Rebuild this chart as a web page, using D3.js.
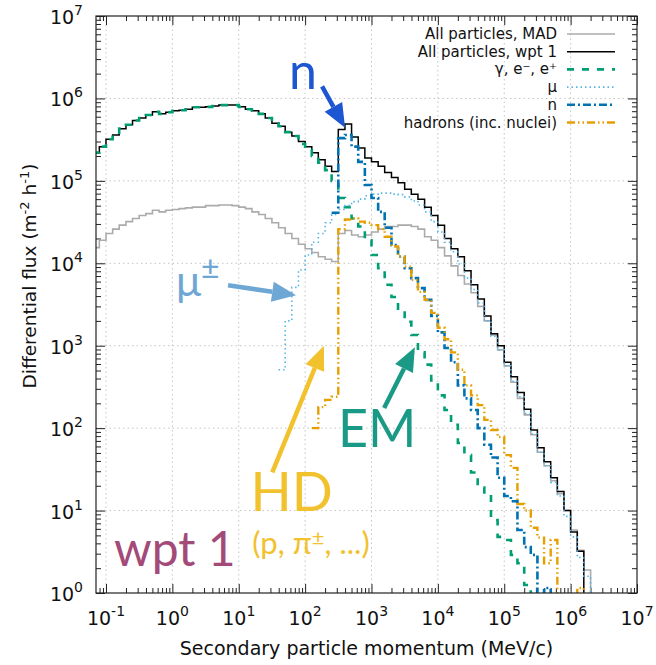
<!DOCTYPE html>
<html>
<head>
<meta charset="utf-8">
<script src="https://cdn.jsdelivr.net/npm/d3@7"></script>
<style>
  body { margin: 0; background: #fff; }
  svg { display: block; }
</style>
</head>
<body>
<div id="chart"></div>
<script>
// Histogram bin low edges (MeV/c), 10 bins per decade
const binLowEdges = [
  0.0631, 0.0794, 0.1, 0.126, 0.158, 0.2, 0.251, 0.316, 0.398, 0.501, 0.631, 0.794,
  1, 1.26, 1.58, 2, 2.51, 3.16, 3.98, 5.01, 6.31, 7.94,
  10, 12.6, 15.8, 20, 25.1, 31.6, 39.8, 50.1, 63.1, 79.4,
  100, 126, 158, 200, 251, 316, 398, 501, 631, 794,
  1000, 1260, 1580, 2000, 2510, 3160, 3980, 5010, 6310, 7940,
  1e4, 1.26e4, 1.58e4, 2e4, 2.51e4, 3.16e4, 3.98e4, 5.01e4, 6.31e4, 7.94e4,
  1e5, 1.26e5, 1.58e5, 2e5, 2.51e5, 3.16e5, 3.98e5, 5.01e5, 6.31e5, 7.94e5,
  1e6, 1.26e6, 1.58e6, 2e6, 2.51e6
];

// flux per bin (m^-2 h^-1), each series starts at the given bin edge
const fluxMAD = [ // from 0.0631
  1.55e4, 1.9e4, 2.3e4, 2.6e4, 2.9e4, 3.2e4, 3.5e4, 3.8e4, 4.0e4, 4.4e4, 4.2e4, 4.4e4,
  4.5e4, 4.6e4, 4.7e4, 4.8e4, 4.8e4, 5.0e4, 5.0e4, 5.1e4, 5.1e4, 5.0e4,
  4.8e4, 4.6e4, 4.2e4, 3.9e4, 3.5e4, 3.1e4, 2.7e4, 2.3e4, 2.0e4, 1.7e4,
  1.5e4, 1.35e4, 1.2e4, 1.12e4, 1.05e4, 2.3e4, 2.5e4, 2.2e4, 2.1e4, 2.2e4,
  2.4e4, 2.6e4, 2.8e4, 2.8e4, 2.9e4, 2.9e4, 2.8e4, 2.6e4, 2.1e4, 1.9e4,
  1.55e4, 1.23e4, 9.3e3, 7.1e3, 5.6e3, 4.4e3, 3.0e3, 2.0e3, 1.35e3, 890,
  570, 360, 230, 145, 83, 51, 35, 23, 16, 10,
  5.8, 3.3, 1.9
];
const fluxWpt1 = [ // from 0.0631
  2.2e5, 2.6e5, 3.2e5, 3.6e5, 4.3e5, 4.8e5, 5.4e5, 5.8e5, 6.3e5, 6.9e5, 6.5e5, 6.8e5,
  7.1e5, 7.2e5, 7.4e5, 7.8e5, 7.8e5, 7.9e5, 8.1e5, 8.3e5, 8.3e5, 8.3e5,
  7.9e5, 7.4e5, 7.1e5, 6.5e5, 5.8e5, 5.0e5, 4.6e5, 3.9e5, 3.5e5, 3.0e5,
  2.6e5, 2.2e5, 1.8e5, 1.5e5, 1.3e5, 4.2e5, 4.9e5, 3.4e5, 2.5e5, 1.9e5,
  1.7e5, 1.5e5, 1.26e5, 1.1e5, 9.5e4, 7.9e4, 6.9e4, 6.0e4, 4.8e4, 3.8e4,
  2.9e4, 2.0e4, 1.5e4, 1.2e4, 8.1e3, 5.5e3, 3.7e3, 2.3e3, 1.4e3, 1.0e3,
  630, 420, 270, 170, 95, 58, 39, 25, 17, 10,
  5.5, 3.2
];
const fluxEM = [ // from 0.0631
  2.2e5, 2.6e5, 3.2e5, 3.6e5, 4.3e5, 4.8e5, 5.4e5, 5.8e5, 6.3e5, 6.9e5, 6.5e5, 6.8e5,
  7.1e5, 7.2e5, 7.4e5, 7.8e5, 7.8e5, 7.9e5, 8.1e5, 8.3e5, 8.3e5, 8.3e5,
  7.9e5, 7.4e5, 7.1e5, 6.5e5, 5.8e5, 5.0e5, 4.6e5, 3.9e5, 3.5e5, 2.8e5,
  2.4e5, 2.0e5, 1.66e5, 1.35e5, 1.0e5, 6.2e4, 4.8e4, 3.5e4, 2.8e4, 1.9e4,
  1.26e4, 8.7e3, 5.5e3, 3.9e3, 2.7e3, 1.95e3, 1.35e3, 830, 590, 380,
  250, 166, 110, 66, 47, 29, 19, 15.5, 7.7, 4.8,
  4.4, 2.9, 2.3, 1.25
];
const fluxMuon = [ // from 39.8
  510, 2.0e3, 5.1e3, 8.3e3,
  1.26e4, 1.8e4, 2.3e4, 3.1e4, 3.9e4, 4.5e4, 5.0e4, 5.6e4, 6.0e4, 6.6e4,
  6.9e4, 7.1e4, 7.1e4, 6.9e4, 6.8e4, 6.4e4, 5.7e4, 5.1e4, 4.2e4, 3.2e4,
  2.4e4, 1.8e4, 1.38e4, 9.8e3, 6.6e3, 4.8e3, 3.3e3, 2.0e3, 1.3e3, 890,
  570, 370, 240, 150, 85, 51, 35, 22, 15, 8.5,
  4.8, 2.7, 1.6
];
const fluxNeutron = [ // from 251
  4.1e4, 3.3e5, 3.6e5, 2.6e5, 1.7e5, 8.9e4,
  6.2e4, 4.2e4, 2.7e4, 1.66e4, 1.2e4, 8.7e3, 6.6e3, 5.0e3, 3.6e3, 2.3e3,
  1.45e3, 940, 630, 330, 230, 166, 100, 63, 44, 25,
  15, 13, 5.8, 3.6, 2.9, 0.9, 1.15
];
const fluxHadrons = [ // from 126
  100, 180, 220, 240, 2.6e4, 3.4e4, 3.5e4, 3.2e4, 3.1e4,
  2.9e4, 2.6e4, 2.1e4, 1.6e4, 1.2e4, 9.1e3, 6.3e3, 4.5e3, 3.6e3, 2.5e3,
  1.65e3, 1.2e3, 830, 510, 330, 250, 190, 126, 95, 78,
  47, 33, 12, 10, 6.2, 4.7, 2.3, 4.4, 0.9, 0.9,
  0.9, 1.15
];

const legendLabels = [
  "All particles, MAD", "All particles, wpt 1", "γ, e⁻, e⁺", "μ", "n", "hadrons (inc. nuclei)"
];
const xTickExponents = [-1, 0, 1, 2, 3, 4, 5, 6, 7];
const yTickExponents = [0, 1, 2, 3, 4, 5, 6, 7];

const series = [
  { label: legendLabels[0], start: 0.0631, values: fluxMAD, color: "#ababab", width: 1.6, dash: null },
  { label: legendLabels[1], start: 0.0631, values: fluxWpt1, color: "#000000", width: 1.5, dash: null },
  { label: legendLabels[2], start: 0.0631, values: fluxEM, color: "#009e73", width: 2.6, dash: "7,8" },
  { label: legendLabels[3], start: 39.8, values: fluxMuon, color: "#56b4e9", width: 1.6, dash: "1.5,3" },
  { label: legendLabels[4], start: 251, values: fluxNeutron, color: "#0072b2", width: 2.6, dash: "8,3,2,3" },
  { label: legendLabels[5], start: 126, values: fluxHadrons, color: "#e69f00", width: 2.4, dash: "8,3,1.5,3,1.5,3" }
];

const width = 656;
const height = 665;
const marginTop = 16;
const marginRight = 19;
const marginBottom = 72;
const marginLeft = 96;

const x = d3.scaleLog()
    .domain([0.0707, 1e7])
    .range([marginLeft, width - marginRight]);

const y = d3.scaleLog()
    .domain([1, 1e7])
    .range([height - marginBottom, marginTop]);

const svg = d3.select("#chart")
  .append("svg")
    .attr("width", width)
    .attr("height", height)
    .attr("viewBox", [0, 0, width, height]);

svg.append("clipPath").attr("id", "plot-clip")
  .append("rect")
    .attr("x", marginLeft).attr("y", marginTop)
    .attr("width", width - marginLeft - marginRight)
    .attr("height", height - marginTop - marginBottom);

// grid
const xMajor = xTickExponents.map(e => Math.pow(10, e));
const yMajor = yTickExponents.map(e => Math.pow(10, e));
const isMajor = v => Math.abs(Math.log10(v) - Math.round(Math.log10(v))) < 1e-6;
const xMinor = x.ticks(60).filter(v => !isMajor(v));
const yMinor = y.ticks(60).filter(v => !isMajor(v));

const grid = svg.append("g")
    .attr("stroke", "#c4c4c4")
    .attr("stroke-width", 1)
    .attr("stroke-dasharray", "1.5,3");
grid.selectAll(".gx").data(xMajor.slice(0, -1)).join("line")
    .attr("x1", d => x(d)).attr("x2", d => x(d))
    .attr("y1", marginTop).attr("y2", height - marginBottom);
grid.selectAll(".gy").data(yMajor.slice(1, -1)).join("line")
    .attr("x1", marginLeft).attr("x2", width - marginRight)
    .attr("y1", d => y(d)).attr("y2", d => y(d));

// axes ticks (inward, mirrored)
function ticks(axisFn, scale, values, size, transform) {
  svg.append("g")
      .attr("transform", transform)
      .call(axisFn(scale).tickValues(values).tickSize(-size).tickSizeOuter(0).tickFormat(""))
      .call(g => g.select(".domain").remove())
      .call(g => g.selectAll("line").attr("stroke", "#222"));
}
const bottomT = `translate(0,${height - marginBottom})`;
const topT = `translate(0,${marginTop})`;
const leftT = `translate(${marginLeft},0)`;
const rightT = `translate(${width - marginRight},0)`;
ticks(d3.axisBottom, x, xMajor, 9, bottomT);
ticks(d3.axisBottom, x, xMinor, 5, bottomT);
ticks(d3.axisTop, x, xMajor, 9, topT);
ticks(d3.axisTop, x, xMinor, 5, topT);
ticks(d3.axisLeft, y, yMajor, 9, leftT);
ticks(d3.axisLeft, y, yMinor, 5, leftT);
ticks(d3.axisRight, y, yMajor, 9, rightT);
ticks(d3.axisRight, y, yMinor, 5, rightT);

// tick labels
const tickFont = "DejaVu Sans, sans-serif";
const xl = svg.append("g").attr("font-family", tickFont).attr("fill", "#111");
xTickExponents.forEach(e => {
  const t = xl.append("text")
      .attr("x", x(Math.pow(10, e)))
      .attr("y", height - marginBottom + 32)
      .attr("text-anchor", "middle")
      .attr("font-size", 19);
  t.append("tspan").text("10");
  t.append("tspan").attr("dy", -9).attr("font-size", 14).text(e < 0 ? "-" + (-e) : e);
});
yTickExponents.forEach(e => {
  const t = xl.append("text")
      .attr("x", marginLeft - 13)
      .attr("y", y(Math.pow(10, e)) + 8)
      .attr("text-anchor", "end")
      .attr("font-size", 19);
  t.append("tspan").text("10");
  t.append("tspan").attr("dy", -9).attr("font-size", 14).text(e);
});

// axis titles
svg.append("text")
    .attr("x", (marginLeft + width - marginRight) / 2)
    .attr("y", height - 10)
    .attr("text-anchor", "middle")
    .attr("font-family", tickFont)
    .attr("font-size", 19)
    .attr("fill", "#111")
    .text("Secondary particle momentum (MeV/c)");

const yTitle = svg.append("text")
    .attr("transform", `translate(36,276) rotate(-90)`)
    .attr("text-anchor", "middle")
    .attr("font-family", tickFont)
    .attr("font-size", 18.5)
    .attr("fill", "#111");
yTitle.append("tspan").text("Differential flux (m");
yTitle.append("tspan").attr("dy", -7).attr("font-size", 13).text("-2");
yTitle.append("tspan").attr("dy", 7).text(" h");
yTitle.append("tspan").attr("dy", -7).attr("font-size", 13).text("-1");
yTitle.append("tspan").attr("dy", 7).text(")");

// step histograms
const stepLine = d3.line()
    .x(d => x(d[0]))
    .y(d => y(d[1]))
    .curve(d3.curveStepAfter);

function stepPoints(s) {
  const i0 = binLowEdges.indexOf(s.start);
  const n = s.values.length;
  const pts = s.values.map((v, j) => [binLowEdges[i0 + j], v]);
  pts.push([binLowEdges[i0 + n], s.values[n - 1]]);
  pts.push([binLowEdges[i0 + n], 0.5]);
  return pts;
}

svg.append("g")
    .attr("clip-path", "url(#plot-clip)")
  .selectAll("path")
  .data(series)
  .join("path")
    .attr("d", d => stepLine(stepPoints(d)))
    .attr("fill", "none")
    .attr("stroke", d => d.color)
    .attr("stroke-width", d => d.width)
    .attr("stroke-dasharray", d => d.dash)
    .attr("stroke-linejoin", "miter");

// frame
svg.append("rect")
    .attr("x", marginLeft).attr("y", marginTop)
    .attr("width", width - marginLeft - marginRight)
    .attr("height", height - marginTop - marginBottom)
    .attr("fill", "none")
    .attr("stroke", "#222")
    .attr("stroke-width", 1.2);

// legend
const legend = svg.append("g")
    .attr("font-family", tickFont)
    .attr("font-size", 15)
    .attr("fill", "#111");
const legendRow = legend.selectAll("g")
  .data(series)
  .join("g")
    .attr("transform", (d, i) => `translate(0,${34 + i * 17.7})`);
legendRow.append("text")
    .attr("x", 557)
    .attr("y", 5)
    .attr("text-anchor", "end")
    .text(d => d.label);
legendRow.append("line")
    .attr("x1", 567).attr("x2", 615)
    .attr("stroke", d => d.color)
    .attr("stroke-width", d => d.width)
    .attr("stroke-dasharray", d => d.dash);

// annotations (anchored in data coordinates)
function arrow(from, to, color) {
  const w = 4.5, headLen = 24, headW = 20;
  const x1 = x(from[0]), y1 = y(from[1]), x2 = x(to[0]), y2 = y(to[1]);
  const a = Math.atan2(y2 - y1, x2 - x1);
  const bx = x2 - headLen * Math.cos(a), by = y2 - headLen * Math.sin(a);
  const px = Math.sin(a) * headW / 2, py = -Math.cos(a) * headW / 2;
  svg.append("line")
      .attr("x1", x1).attr("y1", y1).attr("x2", bx).attr("y2", by)
      .attr("stroke", color).attr("stroke-width", w);
  svg.append("path")
      .attr("d", `M${x2},${y2}L${bx + px},${by + py}L${bx - px},${by - py}Z`)
      .attr("fill", color);
}

const annoFont = "Lato, 'Open Sans', sans-serif";
function label(pos, str, color, size) {
  return svg.append("text")
      .attr("x", x(pos[0])).attr("y", y(pos[1]))
      .attr("font-family", annoFont)
      .attr("font-size", size)
      .attr("fill", color)
      .text(str);
}

const nColor = "#1d56d3", muColor = "#6ea7d4", hdColor = "#f2c12e", emColor = "#1a9a86", wptColor = "#a34a78";

arrow([180, 1.4e6], [400, 4.4e5], nColor);
label([57, 1.3e6], "n", nColor, 50);

arrow([6.9, 5.4e3], [73, 4.1e3], muColor);
label([1.13, 4.0e3], "μ", muColor, 42)
  .append("tspan").attr("dy", -17).attr("font-size", 32).text("±");

arrow([32, 29], [192, 1.0e3], hdColor);
label([15, 9.8], "HD", hdColor, 54);
label([16, 3.0], "(p, π", hdColor, 31)
  .call(t => t.append("tspan").attr("dy", -9).attr("font-size", 22).text("±"))
  .call(t => t.append("tspan").attr("dy", 9).text(", ...)"));

arrow([1550, 175], [4500, 960], emColor);
label([313, 59], "EM", emColor, 52);

label([0.132, 2.1], "wpt 1", wptColor, 48);
</script>
</body>
</html>
